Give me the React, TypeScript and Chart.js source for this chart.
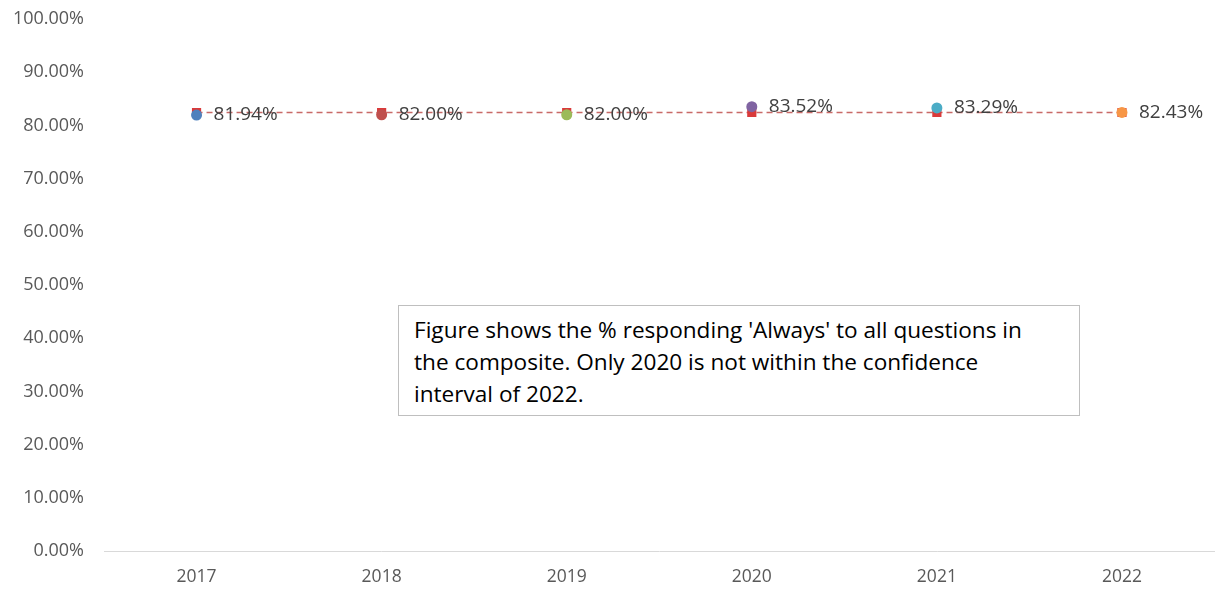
import React, { useEffect, useRef } from "react";
import { Chart, registerables } from "chart.js";

Chart.register(...registerables);

const years = ["2017", "2018", "2019", "2020", "2021", "2022"];
const alwaysPct = [81.94, 82.0, 82.0, 83.52, 83.29, 82.43];
const referenceLine = [82.43, 82.43, 82.43, 82.43, 82.43, 82.43];
const pointColors = ["#4F81BD", "#C0504D", "#9BBB59", "#8064A2", "#4BACC6", "#F79646"];
const noteLines = [
  "Figure shows the % responding 'Always' to all questions in",
  "the composite. Only 2020 is not within the confidence",
  "interval of 2022.",
];

const FONT = "'Open Sans', 'Liberation Sans', sans-serif";

const labelPlugin = {
  id: "pointLabels",
  afterDatasetsDraw(chart: any) {
    const ctx = chart.ctx;
    const meta = chart.getDatasetMeta(0);
    ctx.save();
    ctx.font = `19px ${FONT}`;
    ctx.fillStyle = "#404040";
    ctx.textBaseline = "middle";
    ctx.textAlign = "left";
    meta.data.forEach((pt: any, i: number) => {
      ctx.fillText(alwaysPct[i].toFixed(2) + "%", pt.x + 17, pt.y);
    });
    ctx.restore();
  },
};

export default function App() {
  const ref = useRef<HTMLCanvasElement | null>(null);
  useEffect(() => {
    document.body.style.margin = "0";
    const chart = new Chart(ref.current as HTMLCanvasElement, {
      type: "line",
      data: {
        labels: years,
        datasets: [
          {
            label: "Always",
            data: alwaysPct,
            showLine: false,
            pointStyle: "circle",
            pointRadius: 5.5,
            pointBackgroundColor: pointColors,
            pointBorderColor: pointColors,
            pointBorderWidth: 0,
            order: 0,
          },
          {
            label: "2022",
            data: referenceLine,
            borderColor: "rgba(192,80,77,0.85)",
            borderWidth: 1.5,
            borderDash: [6, 4],
            pointStyle: "rect",
            pointRadius: 6.5,
            pointBackgroundColor: "#D93A3A",
            pointBorderWidth: 0,
            order: 1,
          },
        ],
      },
      options: {
        animation: false,
        responsive: false,
        maintainAspectRatio: false,
        layout: { padding: { top: 19, right: 0, left: 0, bottom: 0 } },
        plugins: { legend: { display: false }, tooltip: { enabled: false } },
        scales: {
          x: {
            offset: true,
            grid: { display: false, drawTicks: false },
            border: { display: true, color: "#D9D9D9", width: 1 },
            ticks: { color: "#595959", font: { family: FONT, size: 17.5 }, padding: 16 },
            afterFit: (s: any) => {
              s.height = 40;
              s.paddingLeft = 0;
              s.paddingRight = 0;
            },
          },
          y: {
            min: 0,
            max: 100,
            grid: { display: false, drawTicks: false },
            border: { display: false },
            ticks: {
              stepSize: 10,
              color: "#595959",
              font: { family: FONT, size: 18 },
              padding: 20,
              callback: (v: any) => Number(v).toFixed(2) + "%",
            },
            afterFit: (s: any) => {
              s.width = 104;
              s.paddingTop = 0;
              s.paddingBottom = 0;
            },
          },
        },
      },
      plugins: [labelPlugin],
    });
    return () => chart.destroy();
  }, []);

  return (
    <div style={{ position: "relative", width: 1217, height: 591, background: "#fff", overflow: "hidden" }}>
      <canvas ref={ref} width={1221} height={591} style={{ display: "block" }} />
      <div
        style={{
          position: "absolute",
          left: 398,
          top: 305,
          width: 682,
          height: 111,
          boxSizing: "border-box",
          border: "1px solid #BFBFBF",
          background: "#fff",
          padding: "8px 0 0 15px",
          fontFamily: FONT,
          fontSize: 22.6,
          lineHeight: "32px",
          color: "#000",
          whiteSpace: "pre",
        }}
      >
        {noteLines.join("\n")}
      </div>
    </div>
  );
}
